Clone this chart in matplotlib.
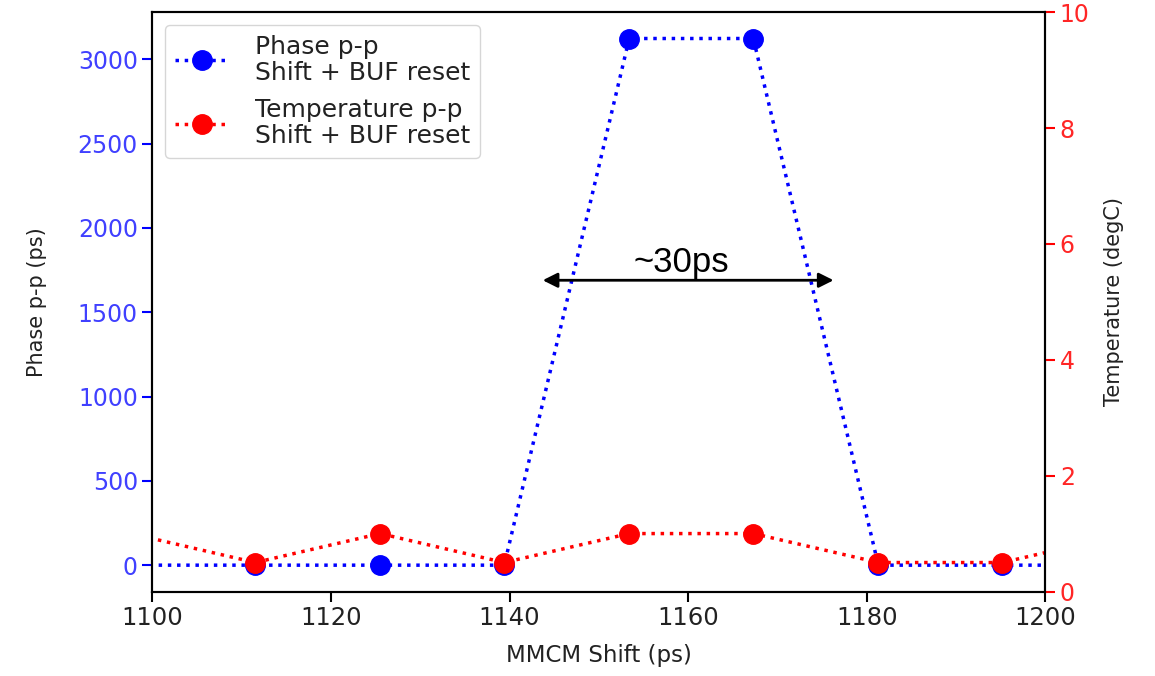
import matplotlib.pyplot as plt

# =========================
# DATOS
# =========================
shift_ps = [1097.6, 1111.5, 1125.5, 1139.4, 1153.4, 1167.3, 1181.3, 1195.2, 1209.2]
phase_pp = [0, 0, 0, 0, 3124, 3124, 0, 0, 0]
temp_pp = [1.0, 0.5, 1.0, 0.5, 1.0, 1.0, 0.5, 0.5, 1.0]

arrow_x = [1143.4, 1176.6]
arrow_y = 1690
label_txt = "~30ps"

# =========================
# FIGURA
# =========================
fig, ax = plt.subplots(figsize=(11.55, 6.76), dpi=100)
fig.subplots_adjust(left=0.132, right=0.905, top=0.982, bottom=0.125)

l1, = ax.plot(shift_ps, phase_pp, ":o", color="blue", lw=2.5, ms=14,
              label="Phase p-p\nShift + BUF reset")
ax.set_xlim(1100, 1200)
ax.set_xlabel("MMCM Shift (ps)", fontsize=16.5, labelpad=10, color="#222222")
ax.set_ylabel("Phase p-p (ps)", fontsize=15, labelpad=22, color="#222222")
ax.tick_params(axis="y", colors="blue", labelsize=17, length=7, width=1.5)
ax.tick_params(axis="x", labelsize=17.5, length=7, width=1.5, labelcolor="#222222")
for lab in ax.get_yticklabels():
    lab.set_alpha(0.75)

ax2 = ax.twinx()
l2, = ax2.plot(shift_ps, temp_pp, ":o", color="red", lw=2.5, ms=14,
               label="Temperature p-p\nShift + BUF reset")
ax2.set_ylim(0, 10)
ax2.set_ylabel("Temperature (degC)", fontsize=15, labelpad=10, color="#222222")
ax2.tick_params(axis="y", colors="red", labelsize=17, length=7, width=1.5)
for lab in ax2.get_yticklabels():
    lab.set_alpha(0.85)

for a in (ax, ax2):
    for s in a.spines.values():
        s.set_linewidth(1.5)

leg = ax.legend(handles=[l1, l2], loc="upper left", fontsize=18,
                handlelength=2.2, borderpad=0.4, labelspacing=0.55,
                handletextpad=1.0)
for t in leg.get_texts():
    t.set_color("#222222")
    t.set_linespacing(1.1)

# flecha de ~30ps
ax.annotate("", xy=(arrow_x[0], arrow_y), xytext=(arrow_x[1], arrow_y),
            arrowprops=dict(arrowstyle="<|-|>", color="black", lw=2,
                            mutation_scale=22))
ax.text(sum(arrow_x) / 2 - 0.8, arrow_y + 10, label_txt, ha="center", va="bottom",
        fontsize=25, family="Liberation Sans")

fig.savefig("out.png", dpi=100)
